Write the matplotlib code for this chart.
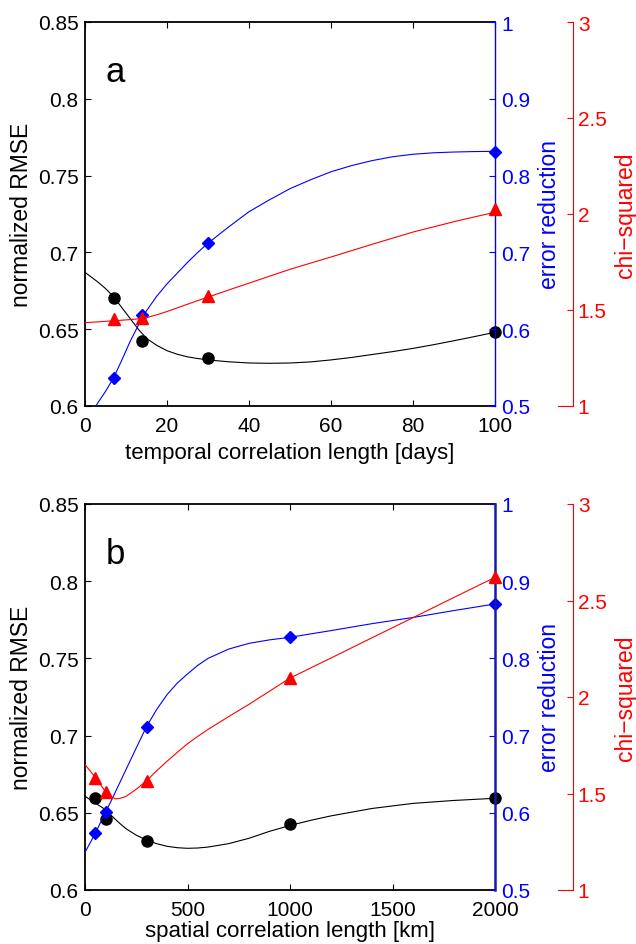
import matplotlib.pyplot as plt

plt.rcParams['font.family'] = ['Liberation Sans', 'DejaVu Sans']

# panel a - temporal correlation length [days]
temp_len = [7, 14, 30, 100]
rmse_a = [0.670, 0.642, 0.631, 0.648]
err_a = [0.536, 0.619, 0.712, 0.831]
chi_a = [1.452, 1.458, 1.571, 2.024]

# smooth fit curves
fit_x_a = [0, 3, 5, 7, 9, 11, 13, 15, 17.5, 20, 22.5, 25, 27.5, 30, 35, 40,
           45, 50, 55, 60, 65, 70, 75, 80, 85, 90, 95, 100]
fit_rmse_a = [0.687, 0.681, 0.6765, 0.671, 0.664, 0.657, 0.650, 0.644, 0.6395,
              0.636, 0.6337, 0.632, 0.6309, 0.630, 0.6288, 0.628, 0.6278,
              0.628, 0.6287, 0.630, 0.6316, 0.6335, 0.6354, 0.6375, 0.6399,
              0.6425, 0.6452, 0.648]
fit_err_a = [0.476, 0.503, 0.519, 0.537, 0.560, 0.584, 0.605, 0.624, 0.643,
             0.659, 0.673, 0.687, 0.700, 0.712, 0.733, 0.753, 0.7685, 0.783,
             0.7945, 0.805, 0.813, 0.8195, 0.8245, 0.8278, 0.8297, 0.8307,
             0.8313, 0.8316]
fit_chi_a = [1.434, 1.438, 1.441, 1.444, 1.447, 1.450, 1.454, 1.460, 1.475,
             1.492, 1.511, 1.530, 1.549, 1.567, 1.604, 1.640, 1.676, 1.712,
             1.744, 1.776, 1.809, 1.842, 1.874, 1.906, 1.933, 1.960, 1.985,
             2.009]

# panel b - spatial correlation length [km]
spat_len = [50, 100, 300, 1000, 2000]
rmse_b = [0.6596, 0.646, 0.6315, 0.6427, 0.6594]
err_b = [0.5734, 0.6007, 0.7116, 0.8273, 0.8705]
chi_b = [1.579, 1.506, 1.566, 2.098, 2.62]

fit_x_b = [0, 25, 50, 75, 100, 125, 150, 175, 200, 250, 300, 350, 400, 450,
           500, 550, 600, 700, 800, 900, 1000, 1100, 1200, 1400, 1600, 1800,
           2000]
fit_rmse_b = [0.6607, 0.6585, 0.6563, 0.6542, 0.652, 0.6487, 0.6455, 0.6425,
              0.6397, 0.6355, 0.6324, 0.630, 0.6283, 0.6274, 0.627, 0.6272,
              0.6278, 0.630, 0.6335, 0.638, 0.6418, 0.6451, 0.648, 0.6528,
              0.6561, 0.658, 0.6594]
fit_err_b = [0.5488, 0.561, 0.5734, 0.587, 0.6007, 0.614, 0.628, 0.642, 0.656,
             0.684, 0.7116, 0.734, 0.753, 0.768, 0.7798, 0.791, 0.800, 0.812,
             0.8195, 0.824, 0.8273, 0.8317, 0.836, 0.845, 0.853, 0.862,
             0.8705]
fit_chi_b = [1.649, 1.617, 1.584, 1.547, 1.509, 1.484, 1.472, 1.476, 1.485,
             1.522, 1.566, 1.618, 1.667, 1.713, 1.758, 1.796, 1.832, 1.898,
             1.962, 2.030, 2.098, 2.150, 2.202, 2.307, 2.411, 2.516, 2.62]

rmse_ticks = [0.6, 0.65, 0.7, 0.75, 0.8, 0.85]
rmse_labels = ['0.6', '0.65', '0.7', '0.75', '0.8', '0.85']
err_ticks = [0.5, 0.6, 0.7, 0.8, 0.9, 1.0]
err_labels = ['0.5', '0.6', '0.7', '0.8', '0.9', '1']
chi_ticks = [1, 1.5, 2, 2.5, 3]
chi_labels = ['1', '1.5', '2', '2.5', '3']

W, H = 636, 945
fig = plt.figure(figsize=(W / 100, H / 100), dpi=100)


def draw_panel(top, bottom, letter, x, rmse, err, chi, fx, frmse, ferr, fchi,
               xmax, xticks, xlabel, label_top, blue_col, blue_lw):
    rect = [85 / W, 1 - bottom / H, 410 / W, (bottom - top) / H]
    ax = fig.add_axes(rect)
    ax.plot(fx, frmse, color='k', lw=0.8)
    ax.plot(x, rmse, 'o', color='k', ms=8, clip_on=False)
    ax.set_xlim(0, xmax)
    ax.set_ylim(0.6, 0.85)
    ax.set_xticks(xticks)
    ax.set_yticks(rmse_ticks)
    ax.set_yticklabels(rmse_labels)
    ax.tick_params(axis='y', direction='in', length=4, pad=4.5, labelsize=15)
    ax.tick_params(axis='x', direction='in', top=True, length=4, pad=7, labelsize=15)
    ax.spines['right'].set_visible(False)
    for s in ['left', 'top', 'bottom']:
        ax.spines[s].set_linewidth(1.3)
    ax.set_xlabel(xlabel, fontsize=16)
    ax.xaxis.set_label_coords(0.5, -(label_top - bottom) / (bottom - top))
    ax.text(0.05, 0.846, letter, transform=ax.transAxes, fontsize=25, va='baseline')

    ax2 = ax.twinx()
    ax2.plot(fx, ferr, color='blue', lw=0.8)
    ax2.plot(x, err, 'D', color='blue', ms=6.5, clip_on=False)
    ax2.set_ylim(0.5, 1.0)
    ax2.set_yticks(err_ticks)
    ax2.set_yticklabels(err_labels)
    ax2.tick_params(axis='y', colors='blue', direction='in', length=4, pad=4.5, labelsize=15)
    for s in ['left', 'top', 'bottom']:
        ax2.spines[s].set_visible(False)
    ax2.spines['right'].set_color(blue_col)
    ax2.spines['right'].set_linewidth(blue_lw)

    ax3 = ax.twinx()
    ax3.plot(fx, fchi, color='red', lw=0.8)
    ax3.plot(x, chi, '^', color='red', ms=9, clip_on=False)
    ax3.set_ylim(1, 3)
    ax3.axis('off')

    # narrow axes carrying the chi-squared scale
    axr = fig.add_axes([558 / W, rect[1], 15 / W, rect[3]])
    axr.set_ylim(1, 3)
    axr.set_xticks([])
    axr.patch.set_visible(False)
    axr.spines['left'].set_visible(False)
    axr.spines['top'].set_visible(False)
    axr.spines['right'].set_color('red')
    axr.spines['bottom'].set_color('red')
    axr.yaxis.tick_right()
    axr.set_yticks(chi_ticks)
    axr.set_yticklabels(chi_labels)
    axr.tick_params(axis='y', colors='red', direction='in', length=4, pad=3.5, labelsize=15)

    yc = 1 - (top + bottom) / 2 / H
    fig.text(22 / W, yc, 'normalized RMSE', rotation=90, ha='center', va='center', fontsize=16.5)
    fig.text(549 / W, yc, 'error reduction', rotation=90, ha='center', va='center',
             fontsize=16.5, color='blue')
    fig.text(626 / W, yc, 'chi\u2212squared', rotation=90, ha='center', va='center',
             fontsize=16.5, color='red')


draw_panel(23, 407, 'a', temp_len, rmse_a, err_a, chi_a,
           fit_x_a, fit_rmse_a, fit_err_a, fit_chi_a,
           100, [0, 20, 40, 60, 80, 100], 'temporal correlation length [days]', 443,
           'blue', 1.0)
draw_panel(505, 891, 'b', spat_len, rmse_b, err_b, chi_b,
           fit_x_b, fit_rmse_b, fit_err_b, fit_chi_b,
           2000, [0, 500, 1000, 1500, 2000], 'spatial correlation length [km]', 921,
           '#1a1aa8', 1.8)

fig.savefig('out.png', dpi=100)
